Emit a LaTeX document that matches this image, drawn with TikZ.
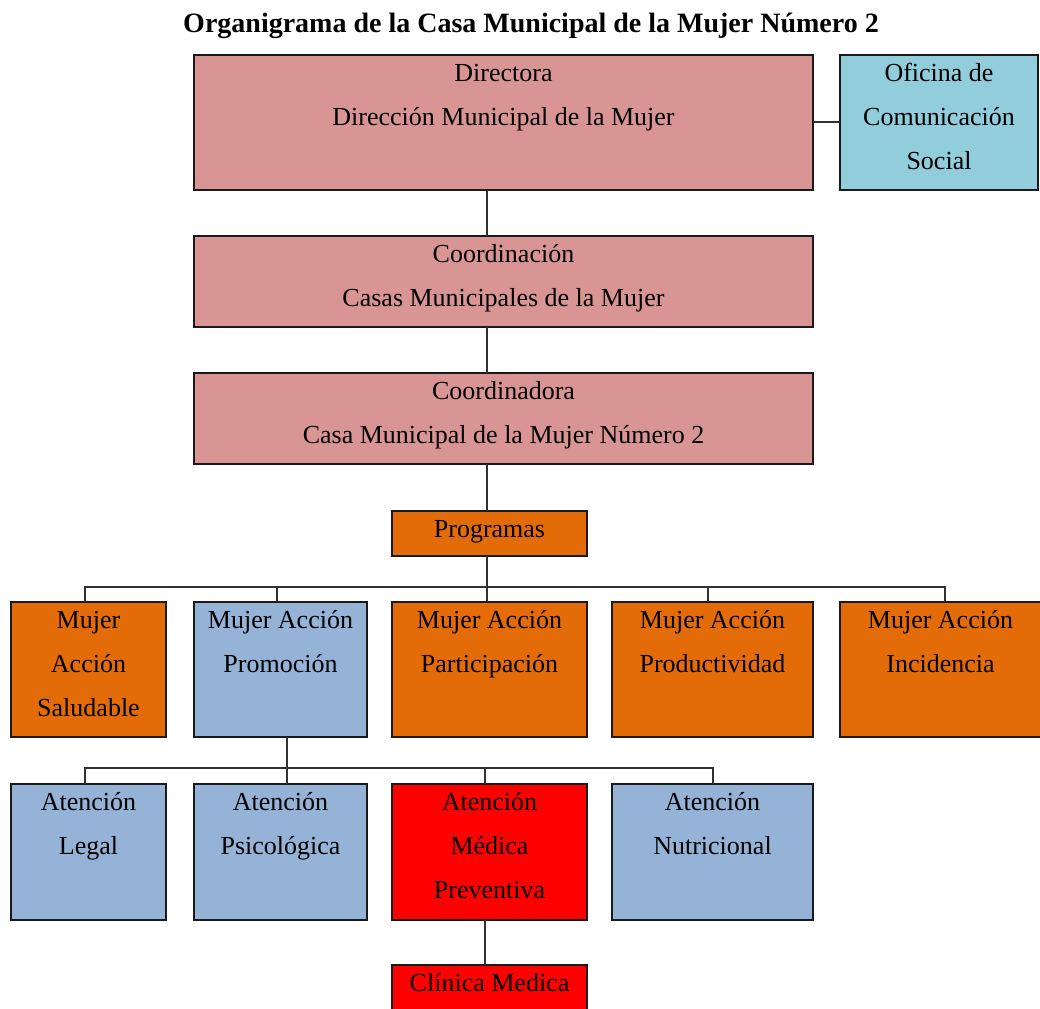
\documentclass[tikz,border=0pt]{standalone}
\usepackage{fontspec}
\setmainfont{Liberation Serif}
\usetikzlibrary{calc}
\definecolor{cpink}{HTML}{D99594}
\definecolor{caqua}{HTML}{92CDDC}
\definecolor{corange}{HTML}{E36C09}
\definecolor{cblue}{HTML}{95B3D7}
\definecolor{cred}{HTML}{FF0000}
\definecolor{cline}{HTML}{1A1A1A}
\newcommand\bxt[3]{\parbox[c][#2pt][t]{#1pt}{\centering\rule{0pt}{26.5pt}#3}}
\begin{document}
\begin{tikzpicture}[x=1pt,y=-1pt,
  orgbox/.style={draw=cline, line width=1.4pt, inner sep=0pt, outer sep=0pt,
    font=\fontsize{26}{44}\selectfont},
  conn/.style={draw=cline!90, line width=1.3pt}]
\clip (0,0) rectangle (1040,1008);
\fill[white] (0,0) rectangle (1040,1008);
\node[font=\bfseries\fontsize{28}{32}\selectfont, anchor=base] (title) at (531,32.5) {Organigrama de la Casa Municipal de la Mujer Número 2};
% top boxes
\node[orgbox, fill=cpink] (dir) at (503.5,122.5) {\bxt{619}{135}{Directora\\Dirección Municipal de la Mujer}};
\node[orgbox, fill=caqua] (ofi) at (939,122.5) {\bxt{198}{135}{Oficina de\\Comunicación\\Social}};
\node[orgbox, fill=cpink] (coo) at (503.5,281.5) {\bxt{619}{91}{Coordinación\\Casas Municipales de la Mujer}};
\node[orgbox, fill=cpink] (cma) at (503.5,418.5) {\bxt{619}{91}{Coordinadora\\Casa Municipal de la Mujer Número 2}};
\node[orgbox, fill=corange] (pro) at (489.5,533.5) {\bxt{195}{45}{Programas}};
% row 2
\node[orgbox, fill=corange] (sal) at (88.5,669.5) {\bxt{155}{135}{Mujer\\Acción\\Saludable}};
\node[orgbox, fill=cblue] (prm) at (280.5,669.5) {\bxt{173}{135}{Mujer Acción\\Promoción}};
\node[orgbox, fill=corange] (par) at (489.5,669.5) {\bxt{195}{135}{Mujer Acción\\Participación}};
\node[orgbox, fill=corange] (prd) at (712.5,669.5) {\bxt{201}{135}{Mujer Acción\\Productividad}};
\node[orgbox, fill=corange] (inc) at (940.5,669.5) {\bxt{201}{135}{Mujer Acción\\Incidencia}};
% row 3
\node[orgbox, fill=cblue] (leg) at (88.5,852) {\bxt{155}{136}{Atención\\Legal}};
\node[orgbox, fill=cblue] (psi) at (280.5,852) {\bxt{173}{136}{Atención\\Psicológica}};
\node[orgbox, fill=cred] (med) at (489.5,852) {\bxt{195}{136}{Atención\\Médica\\Preventiva}};
\node[orgbox, fill=cblue] (nut) at (712.5,852) {\bxt{201}{136}{Atención\\Nutricional}};
\node[orgbox, fill=cred] (cli) at (489.5,1010) {\bxt{195}{90}{Clínica Medica}};
% coordinates
\coordinate (sp) at (487,0);
\coordinate (busA) at (487,587);
\coordinate (aSal) at (85,587);
\coordinate (aPrm) at (277,587);
\coordinate (aPrd) at (708,587);
\coordinate (aInc) at (945,587);
\coordinate (busB) at (287,768);
\coordinate (bLeg) at (85,768);
\coordinate (bMed) at (485,768);
\coordinate (bNut) at (713,768);
% connectors
\draw[conn] (dir.east |- 0,122) -- (ofi.west |- 0,122);
\draw[conn] (dir.south -| sp) -- (coo.north -| sp);
\draw[conn] (coo.south -| sp) -- (cma.north -| sp);
\draw[conn] (cma.south -| sp) -- (pro.north -| sp);
\draw[conn] (pro.south -| sp) -- (busA);
\draw[conn] (sal.north -| aSal) -- (aSal) -- (aInc) -- (inc.north -| aInc);
\draw[conn] (aPrm) -- (prm.north -| aPrm);
\draw[conn] (busA) -- (par.north -| busA);
\draw[conn] (aPrd) -- (prd.north -| aPrd);
\draw[conn] (prm.south -| busB) -- (busB);
\draw[conn] (leg.north -| bLeg) -- (bLeg) -- (bNut) -- (nut.north -| bNut);
\draw[conn] (busB) -- (psi.north -| busB);
\draw[conn] (bMed) -- (med.north -| bMed);
\draw[conn] (med.south -| bMed) -- (cli.north -| bMed);
\end{tikzpicture}
\end{document}
